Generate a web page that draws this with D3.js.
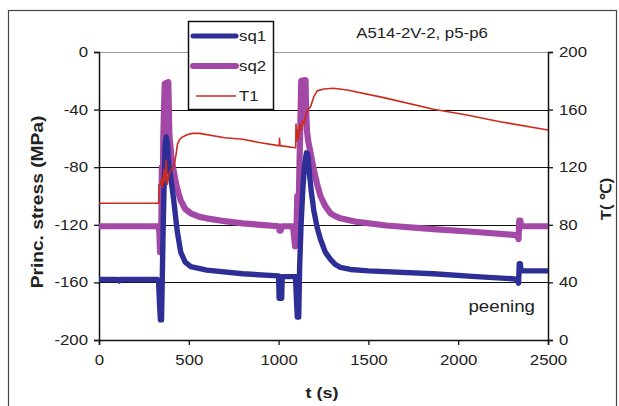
<!DOCTYPE html>
<html>
<head>
<meta charset="utf-8">
<script src="https://cdn.jsdelivr.net/npm/d3@7"></script>
<style>
  body { margin: 0; background: #fff; }
  svg { display: block; }
  text { font-family: "Liberation Sans", Arial, sans-serif; fill: #222; }
</style>
</head>
<body>
<svg id="chart" width="619" height="406"></svg>
<script>
'use strict';

// time (s), stress (MPa) / temperature (C)
var sq1 = [[0,-158],[100,-158],[110,-159],[115,-158],[325,-158],[332,-160],[337,-175],[342,-186],[348,-186],
  [352,-160],[356,-130],[362,-95],[368,-65],[374,-59],[380,-62],[386,-75],[393,-82],[400,-88],[410,-97],
  [418,-105],[435,-124],[455,-139],[480,-146],[511,-149],[600,-151.5],[800,-154],[1000,-155.5],[1003,-171],
  [1017,-171],[1020,-156],[1094,-156],[1098,-168],[1104,-184],[1112,-184],[1117,-150],[1125,-120],[1135,-95],
  [1145,-78],[1155,-70],[1162,-71],[1170,-82],[1182,-97],[1196,-110],[1215,-122],[1233,-130],[1260,-139],
  [1289,-144],[1315,-147.5],[1344,-149.5],[1400,-151],[1500,-152],[1861,-154],[2100,-156],[2306,-157.5],
  [2330,-158],[2336,-160.5],[2340,-147],[2346,-147],[2350,-152],[2500,-152]];

var sq2 = [[0,-121],[330,-121],[336,-125],[340,-139],[346,-136],[350,-80],[354,-115],[358,-60],[362,-40],
  [366,-22],[386,-21],[389,-40],[392,-58],[398,-66],[405,-75],[418,-84],[430,-92],[445,-99],[455,-103],
  [480,-109],[511,-112],[560,-114.5],[600,-115.5],[700,-117.5],[800,-119],[900,-120],[1000,-121],[1005,-124],
  [1012,-124],[1016,-121],[1080,-121],[1086,-128],[1092,-135],[1098,-133],[1104,-100],[1110,-120],[1116,-80],
  [1122,-45],[1126,-20],[1150,-19.5],[1153,-40],[1158,-55],[1165,-62],[1178,-70],[1196,-82],[1215,-92],
  [1233,-100],[1260,-107],[1289,-112],[1315,-114],[1344,-115.5],[1437,-118],[1600,-120.5],[1861,-123],
  [2100,-125],[2306,-127],[2330,-127.5],[2336,-130],[2340,-117],[2346,-117],[2350,-121],[2500,-121]];

var t1 = [[0,95],[332,95],[334,108],[342,108],[348,112],[355,106],[362,118],[368,110],[374,125],[380,108],
  [386,113],[395,117],[405,119],[418,121],[428,128],[437,136],[450,139.5],[465,141],[490,142.5],[520,143.5],
  [560,143.5],[700,140.5],[800,139.4],[900,137],[1000,135],[1004,135],[1005,140],[1008,135],[1092,133.5],
  [1095,133.5],[1097,150],[1100,138],[1106,146],[1112,140],[1118,150],[1126,146],[1134,152],[1142,150],
  [1150,156],[1162,160],[1178,162],[1196,169],[1215,173],[1252,174.3],[1306,174.8],[1382,173.6],[1585,168.3],
  [1863,160.2],[2048,156.2],[2233,151.6],[2500,145.8]];

var xTicks = [0, 500, 1000, 1500, 2000, 2500];
var stressTicks = [-200, -160, -120, -80, -40, 0];
var tempTicks = [0, 40, 80, 120, 160, 200];
var legendNames = ['sq1', 'sq2', 'T1'];
var colors = { sq1: '#2d2f96', sq2: '#a348a6', T1: '#cc2a1c' };

var SX = 1.2; // reference glyphs are wide, stretch text horizontally

var svg = d3.select('#chart');

// outer frame
svg.append('rect').attr('x', 8.5).attr('y', 10.5).attr('width', 608).attr('height', 400)
  .attr('fill', 'none').attr('stroke', '#444').attr('stroke-width', 1.2);

var x = d3.scaleLinear().domain([0, 2500]).range([99, 548]);
var yS = d3.scaleLinear().domain([-200, 0]).range([340, 52]);
var yT = d3.scaleLinear().domain([0, 200]).range([340, 52]);

// gridlines
svg.append('g').selectAll('line').data(stressTicks.slice(1)).enter().append('line')
  .attr('x1', x(0)).attr('x2', x(2500))
  .attr('y1', function (d) { return Math.round(yS(d)) + 0.5; })
  .attr('y2', function (d) { return Math.round(yS(d)) + 0.5; })
  .attr('stroke', function (d) { return d === 0 ? '#999' : '#111'; })
  .attr('stroke-width', 1.2);

function stretch(sel, baseX) {
  sel.attr('transform', 'scale(' + SX + ',1)');
  if (baseX !== undefined) sel.attr('x', baseX / SX);
}

var gL = svg.append('g').attr('transform', 'translate(' + x(0) + ',0)')
  .call(d3.axisLeft(yS).tickValues(stressTicks).tickSize(5).tickPadding(6));
var gR = svg.append('g').attr('transform', 'translate(' + x(2500) + ',0)')
  .call(d3.axisRight(yT).tickValues(tempTicks).tickSize(5).tickPadding(6));
var gB = svg.append('g').attr('transform', 'translate(0,' + yS(-200) + ')')
  .call(d3.axisBottom(x).tickValues(xTicks).tickSize(5).tickPadding(10).tickFormat(d3.format('d')));

[gL, gR, gB].forEach(function (g) {
  g.select('.domain').attr('stroke', '#111').attr('stroke-width', 1.5);
  g.selectAll('.tick line').attr('stroke', '#111').attr('stroke-width', 1.3);
  g.selectAll('.tick text').style('font-size', '14px').attr('fill', '#222')
    .style('font-family', '"Liberation Sans", Arial, sans-serif');
});
stretch(gL.selectAll('.tick text'), -11);
stretch(gR.selectAll('.tick text'), 11);
stretch(gB.selectAll('.tick text'));
gL.selectAll('.tick text').text(function (d) { return d; });

// series
function lineFor(yScale) {
  return d3.line().x(function (d) { return x(d[0]); }).y(function (d) { return yScale(d[1]); });
}
var plot = svg.append('g');
plot.append('path').datum(sq2).attr('d', lineFor(yS)).attr('fill', 'none')
  .attr('stroke', colors.sq2).attr('stroke-width', 6.2).attr('stroke-linejoin', 'round');
plot.append('path').datum(sq1).attr('d', lineFor(yS)).attr('fill', 'none')
  .attr('stroke', colors.sq1).attr('stroke-width', 5.4).attr('stroke-linejoin', 'round');
plot.append('path').datum(t1).attr('d', lineFor(yT)).attr('fill', 'none')
  .attr('stroke', colors.T1).attr('stroke-width', 1.6).attr('stroke-linejoin', 'round');

// axis titles
svg.append('text').attr('transform', 'translate(43,202) rotate(-90) scale(' + SX + ',1)')
  .attr('text-anchor', 'middle').style('font-size', '16px').style('font-weight', 'bold')
  .text('Princ. stress (MPa)');
svg.append('text').attr('transform', 'translate(611,199) rotate(-90) scale(1.1,1)')
  .attr('text-anchor', 'middle').style('font-size', '15px').style('font-weight', 'bold')
  .text('T( \u2103)');
svg.append('text').attr('transform', 'translate(322,398) scale(' + SX + ',1)')
  .attr('text-anchor', 'middle').style('font-size', '15px').style('font-weight', 'bold')
  .text('t (s)');

// annotations
svg.append('text').attr('transform', 'translate(422,38) scale(' + SX + ',1)')
  .attr('text-anchor', 'middle').style('font-size', '14px').text('A514-2V-2, p5-p6');
svg.append('text').attr('transform', 'translate(535,312) scale(1.1,1)')
  .attr('text-anchor', 'end').style('font-size', '17px').text('peening');

// legend
var lg = svg.append('g');
lg.append('rect').attr('x', 188.5).attr('y', 21.5).attr('width', 85).attr('height', 88)
  .attr('fill', '#fff').attr('stroke', '#111').attr('stroke-width', 1.5);
var widths = { sq1: 5, sq2: 6, T1: 1.6 };
legendNames.forEach(function (name, i) {
  var yy = 36 + i * 30;
  lg.append('line').attr('x1', name === 'T1' ? 196 : 193).attr('x2', 236).attr('y1', yy).attr('y2', yy)
    .attr('stroke', colors[name]).attr('stroke-width', widths[name])
    .attr('stroke-linecap', name === 'T1' ? 'butt' : 'round');
  lg.append('text').attr('transform', 'translate(239,' + (yy + 5) + ') scale(' + SX + ',1)')
    .style('font-size', '14px').text(name);
});
</script>
</body>
</html>
